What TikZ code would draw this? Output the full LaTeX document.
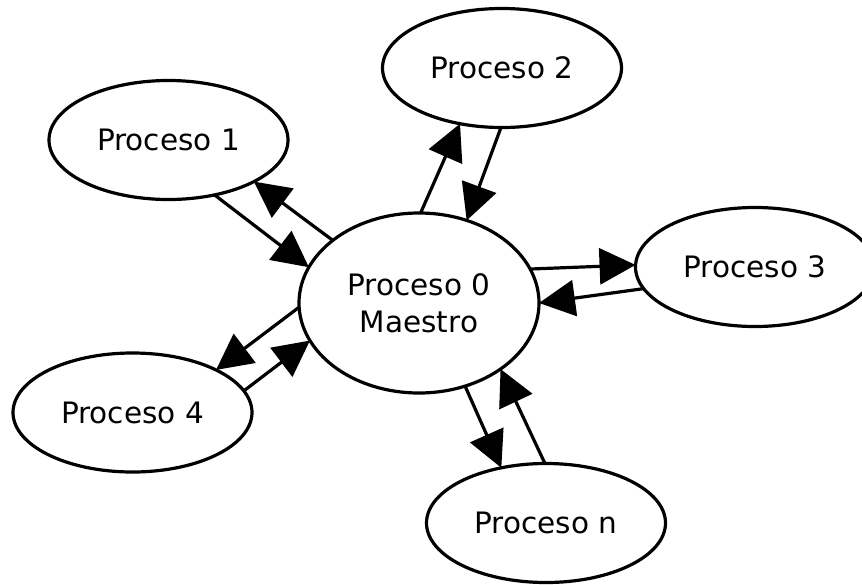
\documentclass[tikz,border=0pt]{standalone}
\usepackage{fontspec}
\setmainfont{DejaVu Sans}
\usetikzlibrary{shapes.geometric,arrows.meta}
\begin{document}
\begin{tikzpicture}[x=1pt,y=-1pt,
  proc/.style={ellipse, draw, line width=3.2pt, minimum width=239pt, minimum height=119pt,
    inner sep=0pt, outer sep=0pt, font=\fontsize{29.5}{37}\selectfont, align=center},
  link/.style={line width=3.2pt, -{Triangle[length=36pt,width=36pt]}}]
\useasboundingbox (0,0) rectangle (862,584);
\node[proc] (p1) at (168.5,140) {Proceso 1};
\node[proc] (p2) at (502,68) {Proceso 2};
\node[proc] (p3) at (755,267) {Proceso 3};
\node[proc] (p4) at (132.5,412.5) {Proceso 4};
\node[proc] (pn) at (546,523) {Proceso n};
\node[proc, minimum width=240pt, minimum height=180pt] (p0) at (419,303) {Proceso 0\\Maestro};
% P1
\draw[link] (p1.-50.3) -- (p0.162.5);
\draw[link] (p0.144.2) -- (p1.-26.9);
% P2
\draw[link] (p0.89.4) -- (p2.-127.6);
\draw[link] (p2.-91.8) -- (p0.60.9);
% P3
\draw[link] (p0.17.5) -- (p3.179);
\draw[link] (p3.-169.4) -- (p0.0);
% P4
\draw[link] (p0.-178) -- (p4.27);
\draw[link] (p4.11.3) -- (p0.-161.1);
% Pn
\draw[link] (p0.-61.6) -- (pn.129.6);
\draw[link] (pn.91) -- (p0.-39.1);
\end{tikzpicture}
\end{document}
